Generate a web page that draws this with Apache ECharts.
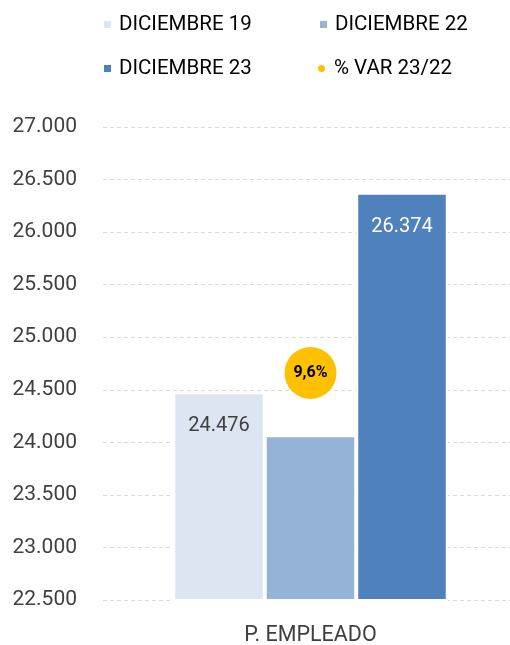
<!DOCTYPE html>
<html>
<head>
<meta charset="utf-8">
<script src="https://cdn.jsdelivr.net/npm/echarts@6/dist/echarts.min.js"></script>
<style>
html,body{margin:0;padding:0;background:#fff;}
#chart{width:510px;height:645px;}
</style>
</head>
<body>
<div id="chart"></div>
<script>
const categories = ['P. EMPLEADO'];
const seriesNames = ['DICIEMBRE 19', 'DICIEMBRE 22', 'DICIEMBRE 23', '% VAR 23/22'];
const dic19 = [24476];
const dic22 = [24067];
const dic23 = [26374];
const varPct = [9.6];
const varBubbleY = [24660];
const yTicks = [22500, 23000, 23500, 24000, 24500, 25000, 25500, 26000, 26500, 27000];

function fmtThousands(v) {
  return String(Math.round(v)).replace(/\B(?=(\d{3})+(?!\d))/g, '.');
}

const FONT = 'Roboto';
const colors = ['#DCE6F2', '#95B3D7', '#4F81BD', '#FFC000'];

const chart = echarts.init(document.getElementById('chart'), null, {renderer: 'canvas'});

function legendItem(name, left, top, icon, size, padLeft) {
  return {
    data: [name],
    left: left, top: top,
    padding: 0,
    icon: icon,
    itemWidth: size, itemHeight: size,
    selectedMode: false,
    itemStyle: {opacity: 1},
    textStyle: {fontFamily: FONT, fontSize: 20.5, color: '#000', lineHeight: 20, padding: [0, 0, 0, padLeft]}
  };
}

chart.setOption({
  animation: false,
  color: colors,
  legend: [
    legendItem(seriesNames[0], 102, 14, 'rect', 9, 2),
    legendItem(seriesNames[1], 318, 14, 'rect', 9, 2),
    legendItem(seriesNames[2], 102, 58, 'rect', 9, 2),
    legendItem(seriesNames[3], 318, 58, 'circle', 7, 4)
  ],
  grid: {left: 103, width: 415, top: 127, bottom: 45, containLabel: false, outerBoundsMode: 'none'},
  xAxis: {
    type: 'category',
    data: categories,
    axisLine: {show: false},
    axisTick: {show: false},
    axisLabel: {fontFamily: FONT, fontSize: 21.5, color: '#404040', margin: 25}
  },
  yAxis: {
    type: 'value',
    min: yTicks[0], max: yTicks[yTicks.length - 1], interval: 500,
    axisLine: {show: false},
    axisTick: {show: false},
    axisLabel: {fontFamily: FONT, fontSize: 21, color: '#404040', margin: 26, formatter: fmtThousands},
    splitLine: {lineStyle: {color: '#D9D9D9', type: [4, 3], width: 1}}
  },
  series: [
    {
      name: seriesNames[0], type: 'bar', data: dic19,
      barWidth: 91.5, barGap: '0%',
      itemStyle: {color: colors[0], borderColor: '#fff', borderWidth: 2},
      label: {show: true, position: 'insideTop', distance: 24, fontFamily: FONT, fontSize: 20, color: '#404040', formatter: p => fmtThousands(p.value)}
    },
    {
      name: seriesNames[1], type: 'bar', data: dic22,
      barWidth: 91.5, barGap: '0%',
      itemStyle: {color: colors[1], borderColor: '#fff', borderWidth: 2}
    },
    {
      name: seriesNames[2], type: 'bar', data: dic23,
      barWidth: 91.5, barGap: '0%',
      itemStyle: {color: colors[2], borderColor: '#fff', borderWidth: 2},
      label: {show: true, position: 'insideTop', distance: 24, fontFamily: FONT, fontSize: 20, color: '#fff', formatter: p => fmtThousands(p.value)}
    },
    {
      name: seriesNames[3], type: 'scatter',
      data: varBubbleY.map((y, i) => ({value: y, pct: varPct[i]})),
      symbolSize: 52,
      itemStyle: {color: colors[3], opacity: 1},
      z: 5,
      label: {show: true, position: 'inside', fontFamily: FONT, fontSize: 16, fontWeight: 'bold', color: '#000',
        formatter: p => String(p.data.pct).replace('.', ',') + '%'}
    }
  ]
});
</script>
</body>
</html>
